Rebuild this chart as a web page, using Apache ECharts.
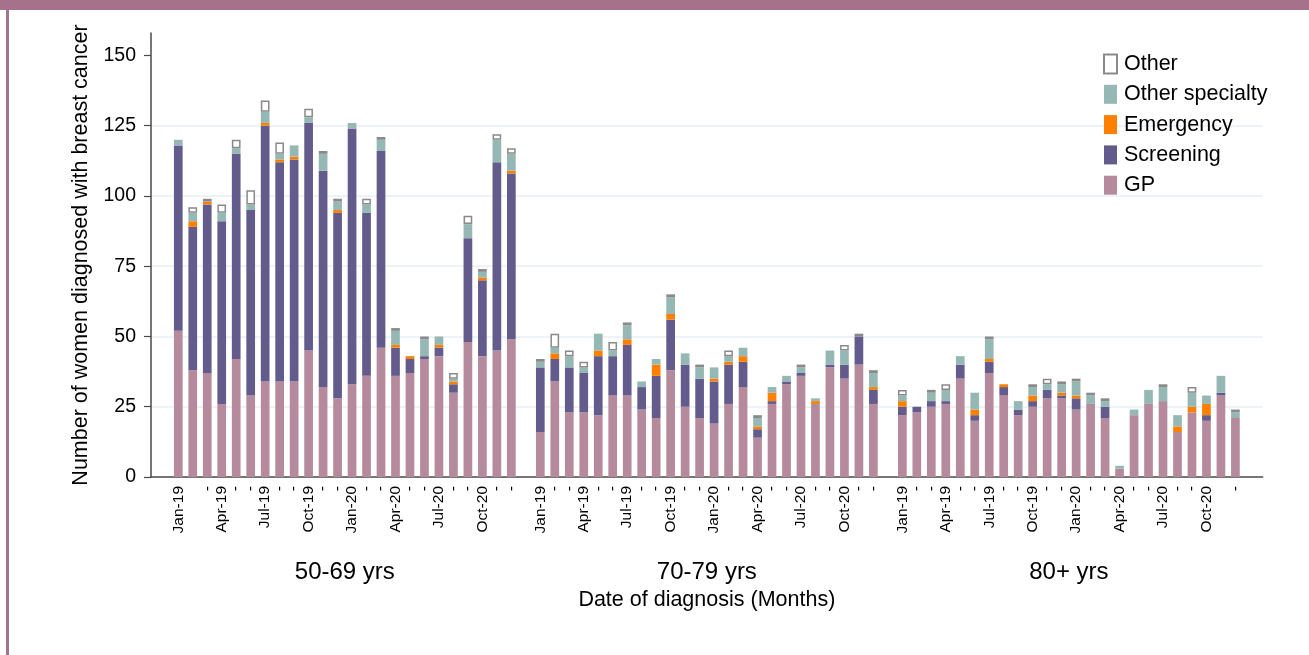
<!DOCTYPE html>
<html>
<head>
<meta charset="utf-8">
<title>Breast cancer diagnoses by route and age group</title>
<script src="https://cdn.jsdelivr.net/npm/echarts@6/dist/echarts.min.js"></script>
<style>
  html, body { margin: 0; padding: 0; background: #ffffff; }
  #page { position: absolute; left: 0; top: 0; width: 1309px; height: 655px; overflow: hidden; }
  #chart { position: absolute; left: 0; top: 0; width: 1309px; height: 655px; }
  #band { position: absolute; left: 0; top: 0; width: 1309px; height: 10px; background: #a6728b; }
  #rule { position: absolute; left: 6px; top: 10px; width: 2.5px; height: 645px; background: #a6728b; }
</style>
</head>
<body>
<div id="page">
  <div id="chart"></div>
  <div id="band"></div>
  <div id="rule"></div>
</div>
<script>
// Months shown in every age panel, and the label printed under each month.
const months = ['Jan-19','Feb-19','Mar-19','Apr-19','May-19','Jun-19','Jul-19','Aug-19','Sep-19','Oct-19','Nov-19','Dec-19',
                'Jan-20','Feb-20','Mar-20','Apr-20','May-20','Jun-20','Jul-20','Aug-20','Sep-20','Oct-20','Nov-20','Dec-20'];
const monthTickLabels = ['Jan-19','-','-','Apr-19','-','-','Jul-19','-','-','Oct-19','-','-',
                         'Jan-20','-','-','Apr-20','-','-','Jul-20','-','-','Oct-20','-','-'];
const ageGroups = ['50-69 yrs', '70-79 yrs', '80+ yrs'];
const yTicks = [0, 25, 50, 75, 100, 125, 150];

// Women aged 50-69
const gp50     = [52, 38, 37, 26, 42, 29, 34, 34, 34, 45, 32, 28, 33, 36, 46, 36, 37, 42, 43, 30, 48, 43, 45, 49];
const screen50 = [66, 51, 60, 65, 73, 66, 91, 78, 79, 81, 77, 66, 91, 58, 70, 10,  5,  1,  3,  3, 37, 27, 67, 59];
const emerg50  = [ 0,  2,  1,  0,  0,  0,  1,  1,  1,  0,  0,  1,  0,  0,  0,  1,  1,  0,  1,  1,  0,  1,  0,  1];
const spec50   = [ 2,  3,  0,  3,  2,  2,  4,  2,  4,  2,  6,  3,  2,  3,  4,  5,  0,  6,  3,  1,  5,  2,  8,  6];
const other50  = [ 0,  2,  1,  3,  3,  5,  4,  4,  0,  3,  1,  1,  0,  2,  1,  1,  0,  1,  0,  2,  3,  1,  2,  2];

// Women aged 70-79
const gp70     = [16, 34, 23, 23, 22, 29, 29, 24, 21, 38, 25, 21, 19, 26, 32, 14, 26, 33, 36, 26, 39, 35, 40, 26];
const screen70 = [23,  8, 16, 14, 21, 14, 18,  8, 15, 18, 15, 14, 15, 14,  9,  3,  1,  1,  1,  0,  1,  5, 10,  5];
const emerg70  = [ 0,  2,  0,  0,  2,  0,  2,  0,  4,  2,  0,  0,  1,  1,  2,  1,  3,  0,  0,  1,  0,  0,  0,  1];
const spec70   = [ 2,  2,  4,  2,  6,  2,  5,  2,  2,  6,  4,  4,  4,  2,  3,  3,  2,  2,  2,  1,  5,  5,  0,  5];
const other70  = [ 1,  5,  2,  2,  0,  3,  1,  0,  0,  1,  0,  1,  0,  2,  0,  1,  0,  0,  1,  0,  0,  2,  1,  1];

// Women aged 80 and over
const gp80     = [22, 23, 25, 26, 35, 20, 37, 29, 22, 25, 28, 28, 24, 26, 21,  3, 22, 26, 27, 16, 23, 20, 29, 21];
const screen80 = [ 3,  2,  2,  1,  5,  2,  4,  3,  2,  2,  3,  1,  4,  0,  4,  0,  0,  0,  0,  0,  0,  2,  1,  0];
const emerg80  = [ 2,  0,  0,  0,  0,  2,  1,  1,  0,  2,  0,  1,  1,  0,  0,  0,  0,  0,  0,  2,  2,  4,  0,  0];
const spec80   = [ 2,  0,  3,  4,  3,  6,  7,  0,  3,  3,  2,  3,  5,  3,  2,  1,  2,  5,  5,  4,  5,  3,  6,  2];
const other80  = [ 2,  0,  1,  2,  0,  0,  1,  0,  0,  1,  2,  1,  1,  1,  1,  0,  0,  0,  1,  0,  2,  0,  0,  1];

// ---- layout ----
// Each age panel takes one slot per month, with one empty slot between panels.
const panelStride = months.length + 1;
const slotCount = panelStride * ageGroups.length - 1;
const slotOf = (panel, month) => panel * panelStride + month;

const W = 1309, H = 655;
const plot = { left: 151, right: 1262.7, top: 33, bottom: 477 };
const edgePad = 1.884;                                   // slots between axis ends and the outer bars
const slotPx = (plot.right - plot.left) / (slotCount - 1 + 2 * edgePad);
const xMin = -edgePad;
const xMax = slotCount - 1 + edgePad;
// Bars sit in an inner grid whose category bands line up with the slot scale above.
const barGrid = {
  left: plot.left + (edgePad - 0.5) * slotPx,
  right: W - (plot.left + (edgePad - 0.5) * slotPx + slotCount * slotPx),
  top: plot.top,
  bottom: H - plot.bottom
};

// ---- data shaping ----
function toSlots(panels, dropZeros) {
  const out = new Array(slotCount).fill(null);
  panels.forEach((arr, p) => arr.forEach((v, m) => {
    out[slotOf(p, m)] = (dropZeros && v === 0) ? null : v;
  }));
  return out;
}
const slotNames = new Array(slotCount).fill('');
ageGroups.forEach((g, p) => months.forEach((mo, m) => { slotNames[slotOf(p, m)] = g + ' ' + mo; }));

const monthSlots = [];
const monthLabelBySlot = {};
ageGroups.forEach((g, p) => months.forEach((mo, m) => {
  const s = slotOf(p, m);
  monthSlots.push(s);
  monthLabelBySlot[s] = monthTickLabels[m];
}));
const panelCentres = ageGroups.map((g, p) => slotOf(p, (months.length - 1) / 2));
const panelLabelBySlot = {};
panelCentres.forEach((c, p) => { panelLabelBySlot[c] = ageGroups[p]; });

const FONT = 'Liberation Sans, Arial, sans-serif';

const routes = [
  { name: 'GP',              color: '#b58a9c', panels: [gp50, gp70, gp80] },
  { name: 'Screening',       color: '#625b8c', panels: [screen50, screen70, screen80] },
  { name: 'Emergency',       color: '#ff8000', panels: [emerg50, emerg70, emerg80] },
  { name: 'Other specialty', color: '#95b8b5', panels: [spec50, spec70, spec80] },
  { name: 'Other',           color: '#ffffff', panels: [other50, other70, other80], outline: '#8a8a8a' }
];

const series = routes.map(r => ({
  name: r.name,
  type: 'bar',
  stack: 'route',
  xAxisIndex: 2,
  yAxisIndex: 1,
  barWidth: 8.7,
  data: toSlots(r.panels, !!r.outline),
  itemStyle: r.outline
    ? { color: r.color, borderColor: r.outline, borderWidth: 1.5 }
    : { color: r.color },
  emphasis: { disabled: true },
  silent: true
}));

const chart = echarts.init(document.getElementById('chart'), null, { renderer: 'canvas' });
chart.setOption({
  animation: false,
  backgroundColor: '#ffffff',
  textStyle: { fontFamily: FONT, color: '#000' },
  grid: [
    { left: plot.left, right: W - plot.right, top: plot.top, bottom: H - plot.bottom, containLabel: false, outerBoundsMode: 'none' },
    Object.assign({ containLabel: false, outerBoundsMode: 'none' }, barGrid)
  ],
  legend: {
    orient: 'vertical',
    left: 1098,
    top: 48,
    itemWidth: 13,
    itemHeight: 19,
    itemGap: 8.3,
    icon: 'rect',
    selectedMode: false,
    data: ['Other', 'Other specialty', 'Emergency', 'Screening', 'GP'],
    textStyle: { fontFamily: FONT, fontSize: 21.5, color: '#000', padding: [0, 0, 0, 2] }
  },
  xAxis: [
    {
      // month labels along the baseline
      type: 'value',
      gridIndex: 0,
      min: xMin,
      max: xMax,
      position: 'bottom',
      axisLine: { show: true, onZero: false, lineStyle: { color: '#4a4a4a', width: 1.5 } },
      axisTick: { show: false },
      splitLine: { show: false },
      axisLabel: {
        customValues: monthSlots,
        formatter: v => monthLabelBySlot[v] || '',
        showMinLabel: true,
        showMaxLabel: true,
        hideOverlap: false,
        rotate: 90,
        margin: 9,
        fontFamily: FONT,
        fontSize: 15.5,
        color: '#000'
      }
    },
    {
      // age panel captions and the axis title
      type: 'value',
      gridIndex: 0,
      min: xMin,
      max: xMax,
      position: 'bottom',
      axisLine: { show: false },
      axisTick: { show: false },
      splitLine: { show: false },
      axisLabel: {
        customValues: panelCentres,
        formatter: v => panelLabelBySlot[v] || '',
        showMinLabel: true,
        showMaxLabel: true,
        margin: 83,
        fontFamily: FONT,
        fontSize: 24,
        color: '#000'
      },
      name: 'Date of diagnosis (Months)',
      nameLocation: 'middle',
      nameGap: 109,
      nameTextStyle: { fontFamily: FONT, fontSize: 21.5, color: '#000' }
    },
    {
      // category bands that carry the stacked bars
      type: 'category',
      gridIndex: 1,
      data: slotNames,
      boundaryGap: true,
      show: false
    }
  ],
  yAxis: [
    {
      type: 'value',
      gridIndex: 0,
      min: 0,
      max: 158,
      interval: 25,
      axisLine: { show: true, onZero: false, lineStyle: { color: '#4a4a4a', width: 1.5 } },
      axisTick: { show: true, customValues: yTicks, length: 7, lineStyle: { color: '#4a4a4a', width: 1.2 } },
      axisLabel: { customValues: yTicks, margin: 15, fontFamily: FONT, fontSize: 19.5, color: '#000' },
      splitLine: { show: true, showMinLine: false, showMaxLine: false, lineStyle: { color: '#e9eff5', width: 1.5 } },
      name: 'Number of women diagnosed with breast cancer',
      nameLocation: 'middle',
      nameGap: 56,
      nameTextStyle: { fontFamily: FONT, fontSize: 21.5, color: '#000' }
    },
    {
      type: 'value',
      gridIndex: 1,
      min: 0,
      max: 158,
      show: false
    }
  ],
  series: series
});
</script>
</body>
</html>
